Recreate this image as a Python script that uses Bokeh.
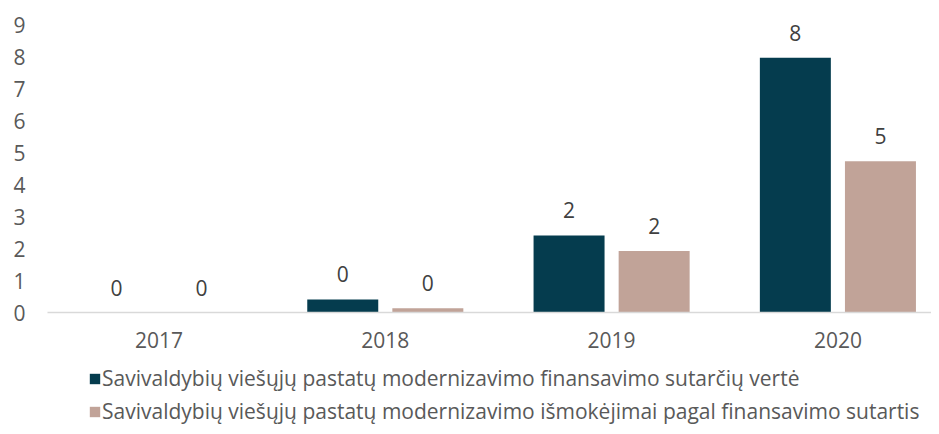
from bokeh.plotting import figure
from bokeh.layouts import column
from bokeh.models import Range1d, FixedTicker, ColumnDataSource, Legend, LegendItem
from bokeh.transform import dodge
from bokeh.core.properties import value
from bokeh.embed import file_html
from bokeh.resources import INLINE

years = ["2017", "2018", "2019", "2020"]
sutarciu_verte = [0.0, 0.41, 2.41, 7.96]
ismokejimai = [0.0, 0.13, 1.92, 4.73]
series_names = [
    "Savivaldybių viešųjų pastatų modernizavimo finansavimo sutarčių vertė",
    "Savivaldybių viešųjų pastatų modernizavimo išmokėjimai pagal finansavimo sutartis",
]
y_ticks = [0, 1, 2, 3, 4, 5, 6, 7, 8, 9]

FONT = "Open Sans"
FS = "21px"
C1 = "#053C4E"
C2 = "#C1A398"
OFF = 0.188
BW = 0.3137

idx = list(range(len(years)))
src = ColumnDataSource(dict(
    x=idx,
    a=sutarciu_verte,
    b=ismokejimai,
    la=[f"{v:.0f}" for v in sutarciu_verte],
    lb=[f"{v:.0f}" for v in ismokejimai],
))

xr = Range1d(-0.4927, 3.4136)
p = figure(width=931, height=360, output_backend="svg", toolbar_location=None,
           x_range=xr, y_range=Range1d(0, 9),
           min_border_left=47, min_border_right=0, min_border_top=24, min_border_bottom=48)
p.outline_line_color = None
p.grid.grid_line_color = None

def bars(fig):
    ra = fig.vbar(x=dodge("x", -OFF, range=fig.x_range), top="a", width=BW, source=src,
                  fill_color=C1, line_color=None)
    rb = fig.vbar(x=dodge("x", OFF, range=fig.x_range), top="b", width=BW, source=src,
                  fill_color=C2, line_color=None)
    return ra, rb

bars(p)
for col, lab, off in (("a", "la", -OFF), ("b", "lb", OFF)):
    p.text(x=dodge("x", off, range=p.x_range), y=col, text=lab, source=src,
           text_align="center", text_baseline="middle", y_offset=-25,
           text_font=value(FONT), text_font_size=FS, text_color="#404040")

p.xaxis.ticker = FixedTicker(ticks=idx)
p.xaxis.major_label_overrides = {i: y for i, y in zip(idx, years)}
p.xaxis.axis_line_color = "#D9D9D9"
p.xaxis.axis_line_width = 1.5
p.xaxis.major_tick_line_color = None
p.xaxis.minor_tick_line_color = None
p.xaxis.major_tick_out = 0
p.xaxis.major_tick_in = 0
p.xaxis.major_label_standoff = 19
p.xaxis.major_label_text_font = FONT
p.xaxis.major_label_text_font_size = FS
p.xaxis.major_label_text_color = "#595959"

p.yaxis.ticker = FixedTicker(ticks=y_ticks)
p.yaxis.axis_line_color = None
p.yaxis.major_tick_line_color = None
p.yaxis.minor_tick_line_color = None
p.yaxis.major_tick_out = 0
p.yaxis.major_tick_in = 0
p.yaxis.major_label_standoff = 22
p.yaxis.major_label_text_font = FONT
p.yaxis.major_label_text_font_size = FS
p.yaxis.major_label_text_color = "#595959"

# legend strip (same series; bars fall outside this strip's y range)
p2 = figure(width=931, height=66, output_backend="svg", toolbar_location=None,
            x_range=xr, y_range=Range1d(20, 21), x_axis_type=None, y_axis_type=None,
            min_border=0)
p2.outline_line_color = None
p2.grid.visible = False
ra, rb = bars(p2)
legend = Legend(items=[LegendItem(label=series_names[0], renderers=[ra]),
                       LegendItem(label=series_names[1], renderers=[rb])],
                orientation="vertical", location=(41, 1),
                glyph_width=13, glyph_height=13, label_standoff=1,
                label_text_font=FONT, label_text_font_size=FS,
                label_text_color="#595959", label_height=22,
                spacing=5, padding=0, margin=0, border_line_color=None,
                background_fill_alpha=0)
p2.add_layout(legend, "center")

layout = column(p, p2, spacing=0)
open("out.html", "w").write(file_html(layout, INLINE))
